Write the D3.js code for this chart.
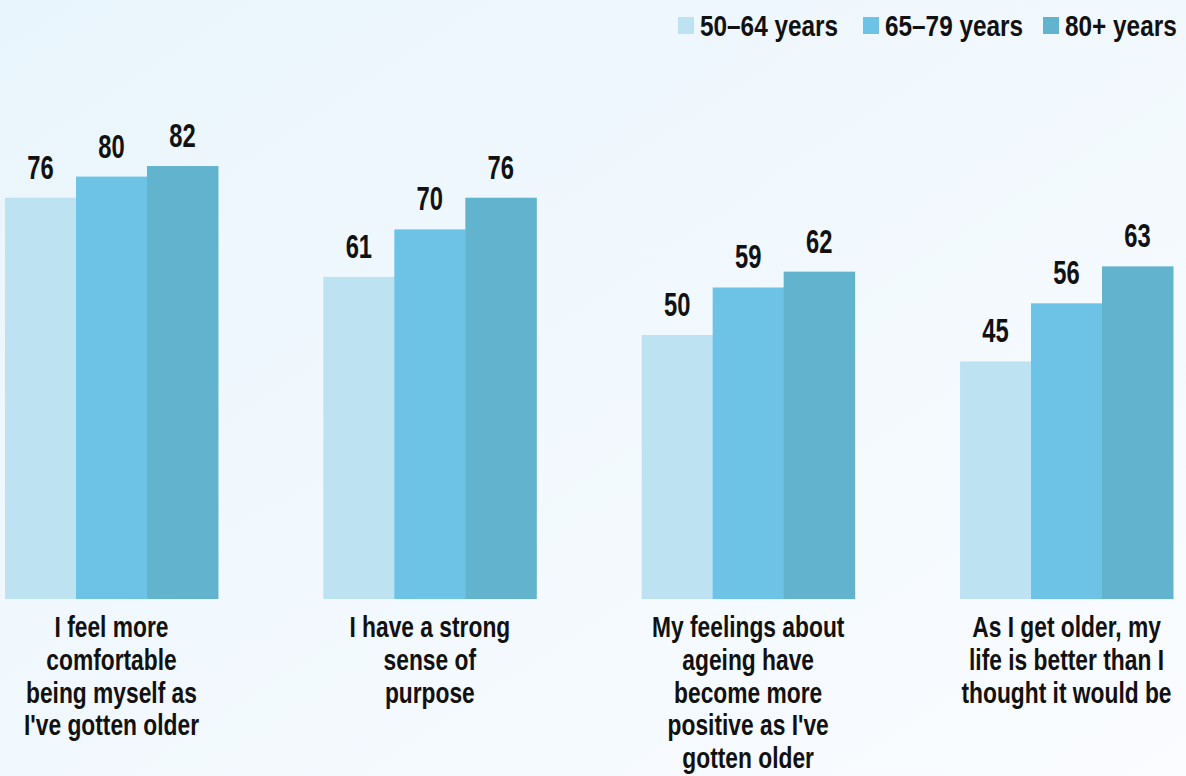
<!DOCTYPE html>
<html><head><meta charset="utf-8">
<script src="https://cdn.jsdelivr.net/npm/d3@7"></script>
<style>
html,body{margin:0;padding:0;}
body{width:1186px;height:776px;overflow:hidden;}
text{font-family:"Liberation Sans",Arial,sans-serif;font-weight:bold;fill:#111;}
</style></head>
<body><svg id="chart" width="1186" height="776"></svg>
<script>
const categories = [
  ["I feel more","comfortable","being myself as","I've gotten older"],
  ["I have a strong","sense of","purpose"],
  ["My feelings about","ageing have","become more","positive as I've","gotten older"],
  ["As I get older, my","life is better than I","thought it would be"]
];
const series = ["50–64 years","65–79 years","80+ years"];
const values50_64 = [76,61,50,45];
const values65_79 = [80,70,59,56];
const values80 = [82,76,62,63];
const colors = ["#bde3f3","#6cc3e6","#62b3ce"];

const allValues = [values50_64, values65_79, values80];
const svg = d3.select("#chart");
const W = 1186, H = 776;

const defs = svg.append("defs");
const grad = defs.append("linearGradient").attr("id","bg").attr("x1","0").attr("y1","0").attr("x2","1").attr("y2","1");
grad.append("stop").attr("offset","0").attr("stop-color","#e9f5fc");
grad.append("stop").attr("offset","1").attr("stop-color","#fafcff");
svg.append("rect").attr("width",W).attr("height",H).attr("fill","url(#bg)");

const idx = d3.range(categories.length);
const x0 = d3.scaleBand().domain(idx).range([5,1173]).paddingInner(0.331).paddingOuter(0);
const x1 = d3.scaleBand().domain(d3.range(series.length)).range([0, x0.bandwidth()]);
const y = d3.scaleLinear().domain([0,100]).range([599,71]);

const g = svg.append("g");
idx.forEach(i => {
  const gg = g.append("g").attr("transform",`translate(${x0(i)},0)`);
  series.forEach((s,j) => {
    const v = allValues[j][i];
    gg.append("rect").attr("x",x1(j)).attr("y",y(v)).attr("width",x1.bandwidth()+0.5).attr("height",y(0)-y(v)).attr("fill",colors[j]);
    gg.append("text")
      .attr("transform",`translate(${x1(j)+x1.bandwidth()/2},${y(v)-19}) scale(0.72,1)`)
      .attr("text-anchor","middle").attr("font-size",33).text(v);
  });
  const t = gg.append("text").attr("text-anchor","middle").attr("font-size",30)
    .attr("transform",`translate(${x0.bandwidth()/2},0) scale(0.76,1)`);
  categories[i].forEach((line,k) => {
    t.append("tspan").attr("x",0).attr("y",637+k*32.8).text(line);
  });
});

// legend
const legX = [678, 863, 1043];
const leg = svg.append("g");
series.forEach((s,j) => {
  leg.append("rect").attr("x",legX[j]).attr("y",17).attr("width",16).attr("height",17).attr("fill",colors[j]);
  leg.append("text").attr("transform",`translate(${legX[j]+22},36) scale(0.84,1)`).attr("font-size",29).text(s);
});
</script></body></html>
